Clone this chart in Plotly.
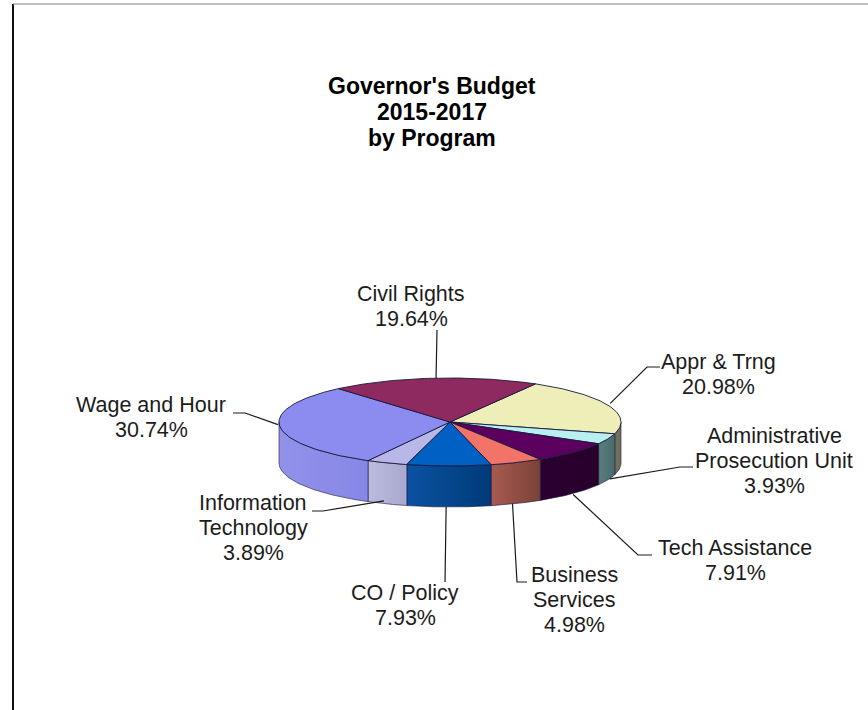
import numpy as np
import plotly.graph_objects as go

# Budget shares by program, clockwise from the top of the pie
programs = [["Appr & Trng"], ["Administrative", "Prosecution Unit"], ["Tech Assistance"], ["Business", "Services"],
            ["CO / Policy"], ["Information", "Technology"], ["Wage and Hour"], ["Civil Rights"]]
shares = [20.98, 3.93, 7.91, 4.98, 7.93, 3.89, 30.74, 19.64]
top_colors = ["#eeeeb8", "#b8f0f0", "#5c0060", "#f27368", "#0060c4", "#b8b8e8", "#8c8cf0", "#8f2a60"]
side_left = ["#6f6f58", "#5a7f80", "#2a0030", "#a85a50", "#0a52a2", "#bcbcde", "#9292ea", "#70204a"]
side_right = ["#6f7060", "#4a6a6c", "#28002c", "#7c4238", "#003a78", "#a8a8d0", "#8686e6", "#70204a"]

# Pie geometry in page pixels
CX, CY, RX, RY, DEPTH = 450, 422, 171, 44, 41
START_ANGLE = 60

# Label placement: centre x and first-line y; leader-line bends for each program
LINE_GAP = 25
label_xy = [(718, 362), (774, 436), (735, 548), (574, 575), (405, 593), (253, 503), (151, 405), (411, 294)]
bends = [[(647, 367), (660, 367)], [(680, 467), (693, 467)], [(638, 555), (652, 555)], [(517, 582), (527, 582)],
         [(445, 582)], [(323, 511), (312, 511)], [(245, 413), (233, 413)], [(437, 330)]]
anchor_nudge = [(2, -2), (2, -1), (0, 1), (-4, 0), (-2.8, 0), (-3, -3), (-2, -2), (2, 0)]

LINE = "#17173c"


def ellipse(t_deg, drop=0.0):
    t = np.radians(t_deg)
    return CX + RX * np.cos(t), CY - RY * np.sin(t) + drop


fig = go.Figure()

edges = START_ANGLE - np.cumsum([0] + [s * 3.6 for s in shares])

# Outer wall of the cylinder: only the part facing the viewer is drawn
for i in range(len(shares)):
    hi, lo = edges[i], edges[i + 1]
    a, b = min(hi, 0), max(lo, -180)
    if a <= b:
        continue
    ts = np.linspace(a, b, 60)
    xt, yt = ellipse(ts)
    xb, yb = ellipse(ts[::-1], DEPTH)
    x = np.r_[xt, xb, xt[0]]
    y = np.r_[yt, yb, yt[0]]
    fig.add_trace(go.Scatter(
        x=x, y=y, mode="lines", fill="toself",
        line=dict(color=LINE, width=0.6),
        fillgradient=dict(type="horizontal", start=float(x.min()), stop=float(x.max()),
                          colorscale=[[0, side_left[i]], [1, side_right[i]]]),
    ))

# Top face of each slice
for i in range(len(shares)):
    ts = np.linspace(edges[i], edges[i + 1], 80)
    xe, ye = ellipse(ts)
    fig.add_trace(go.Scatter(
        x=np.r_[CX, xe, CX], y=np.r_[CY, ye, CY], mode="lines", fill="toself",
        fillcolor=top_colors[i], line=dict(color=LINE, width=0.9),
    ))

# Leader lines run from the middle of each slice's rim to its label
for i in range(len(shares)):
    mid = (edges[i] + edges[i + 1]) / 2
    on_wall = np.sin(np.radians(mid)) < -0.3
    ax, ay = ellipse(mid, DEPTH if on_wall else 0)
    pts = [(ax + anchor_nudge[i][0], ay + anchor_nudge[i][1])] + bends[i]
    fig.add_trace(go.Scatter(x=[p[0] for p in pts], y=[p[1] for p in pts], mode="lines",
                             line=dict(color="#1a1a1a", width=1.2)))


def put_lines(lines, cx, y0, size, color, gap):
    # Each line is placed on its own so the spacing stays tighter than the default
    for n, line in enumerate(lines):
        fig.add_annotation(x=cx, y=y0 + n * gap, text=line, showarrow=False,
                           font=dict(family="Liberation Sans", size=size, color=color),
                           xanchor="center", yanchor="middle")


for name, share, (lx, ly) in zip(programs, shares, label_xy):
    put_lines(name + [f"{share:.2f}%"], lx, ly, 21.5, "#1c1c1c", LINE_GAP)

put_lines(["<b>Governor's Budget</b>", "<b>2015-2017</b>", "<b>by Program</b>"], 432, 86, 23, "#000000", 26)

# Frame around the chart area
fig.add_shape(type="line", x0=13, x1=13, y0=4, y1=710, line=dict(color="#111111", width=2))
fig.add_shape(type="line", x0=13, x1=868, y0=4, y1=4, line=dict(color="#808080", width=1))

fig.update_layout(
    width=868, height=710, margin=dict(l=0, r=0, t=0, b=0), showlegend=False,
    paper_bgcolor="white", plot_bgcolor="white", hovermode=False,
    xaxis=dict(range=[0, 868], visible=False, fixedrange=True),
    yaxis=dict(range=[710, 0], visible=False, fixedrange=True),
)
fig.write_html("out.html", config=dict(displayModeBar=False))
